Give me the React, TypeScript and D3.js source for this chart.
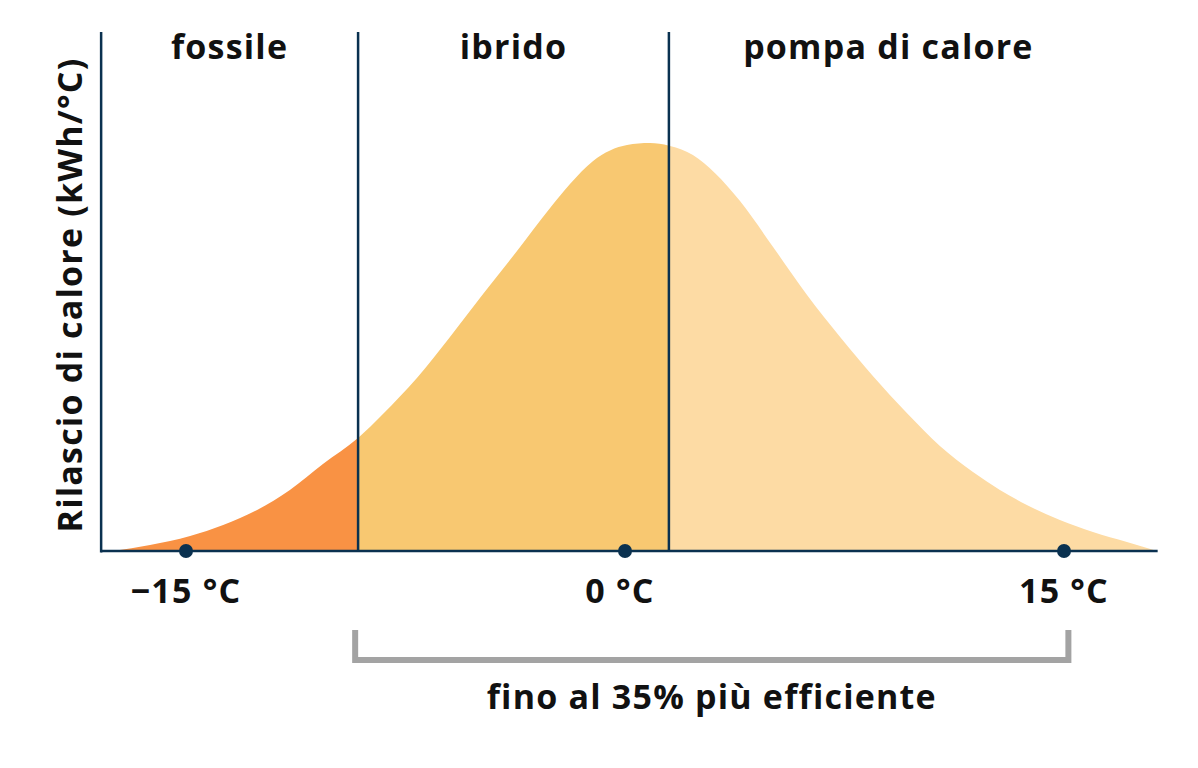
import React from "react";
import * as d3 from "d3";

// Heat-release curve (temperature °C, relative heat demand)
const curveTemps = [-17.49, -16.23, -14.86, -13.73, -12.57, -11.45, -10.32, -9.12, -8.27, -7.11, -5.98, -4.85, -3.69, -2.56, -1.88, -1.09, 0.07, 0.85, 1.54, 2.32, 3.07, 3.93, 5.06, 6.22, 7.35, 8.47, 9.63, 10.76, 11.89, 12.81, 13.73, 14.86, 15.99, 17.15, 18.18];
const curveValues = [0, 6, 15, 26, 41, 61, 87, 113, 137, 173, 214, 257, 300, 343, 367, 390, 406, 408, 405, 396, 378, 350, 304, 256, 214, 175, 138, 105, 79, 61, 46, 31, 19, 9, 0];

const xDomain = [-17.9, 18.2];
const tickTemps = [-15, 0, 15];
const tickLabels = ["\u221215 °C", "0 °C", "15 °C"];

const zoneEdges = [-17.9, -9.12, 1.5, 16.5];
const zoneLabels = ["fossile", "ibrido", "pompa di calore"];
const zoneColors = ["#F99244", "#F8C871", "#FDDBA4"];

const bracketRange = [-9.22, 15.15];
const bracketLabel = "fino al 35% più efficiente";
const yTitle = "Rilascio di calore (kWh/°C)";

export default function App() {
  const W = 1198, H = 768;
  const baseY = 551, topY = 32;
  const x = d3.scaleLinear().domain([-15, 15]).range([186, 1064]);
  const y = d3.scaleLinear().domain([0, 408]).range([baseY, 143]);
  const pts = curveTemps.map((t, i) => [t, curveValues[i]] as [number, number]);
  const area = d3
    .area<[number, number]>()
    .x((d) => x(d[0]))
    .y0(baseY)
    .y1((d) => y(d[1]))
    .curve(d3.curveMonotoneX);
  const areaPath = area(pts) || "";
  const navy = "#0A3150";
  const font = "'Open Sans', sans-serif";
  const txt = {
    fontFamily: font,
    fontWeight: 700,
    fill: "#111",
    letterSpacing: 1.2,
    style: { fontVariantLigatures: "none" },
  } as any;
  const xL = x(xDomain[0]);
  const xR = x(xDomain[1]);
  const bx0 = x(bracketRange[0]);
  const bx1 = x(bracketRange[1]);

  return (
    <svg width={W} height={H} style={{ position: "absolute", left: 0, top: 0, background: "#fff" }}>
      <defs>
        {zoneColors.map((c, i) => (
          <clipPath id={`zone${i}`} key={i}>
            <rect
              x={i === 0 ? 0 : x(zoneEdges[i])}
              y={0}
              width={(i === 2 ? W : x(zoneEdges[i + 1])) - (i === 0 ? 0 : x(zoneEdges[i]))}
              height={H}
            />
          </clipPath>
        ))}
      </defs>
      {zoneColors.map((c, i) => (
        <path key={i} d={areaPath} fill={c} clipPath={`url(#zone${i})`} />
      ))}
      {/* axes */}
      <line x1={xL} x2={xL} y1={topY} y2={baseY + 1.5} stroke={navy} strokeWidth={2.5} />
      <line x1={xL} x2={xR} y1={baseY} y2={baseY} stroke={navy} strokeWidth={2.5} />
      {[zoneEdges[1], zoneEdges[2]].map((t, i) => (
        <line key={i} x1={x(t)} x2={x(t)} y1={topY} y2={baseY} stroke={navy} strokeWidth={2.5} />
      ))}
      {tickTemps.map((t, i) => (
        <g key={i}>
          <circle cx={x(t)} cy={baseY} r={7} fill={navy} />
          <text x={x(t) - (t === 0 ? 5 : 0)} y={603} textAnchor="middle" fontSize={34} {...txt}>
            {tickLabels[i]}
          </text>
        </g>
      ))}
      {zoneLabels.map((l, i) => (
        <text
          key={i}
          x={(x(zoneEdges[i]) + x(zoneEdges[i + 1])) / 2}
          y={59}
          textAnchor="middle"
          fontSize={34}
          {...txt}
        >
          {l}
        </text>
      ))}
      <text
        transform={`translate(82, 295) rotate(-90)`}
        textAnchor="middle"
        fontSize={34}
        {...txt}
      >
        {yTitle}
      </text>
      <path
        d={`M${bx0},630 V660 H${bx1} V630`}
        fill="none"
        stroke="#A3A3A3"
        strokeWidth={6}
      />
      <text x={(bx0 + bx1) / 2} y={709} textAnchor="middle" fontSize={34} {...txt}>
        {bracketLabel}
      </text>
    </svg>
  );
}
